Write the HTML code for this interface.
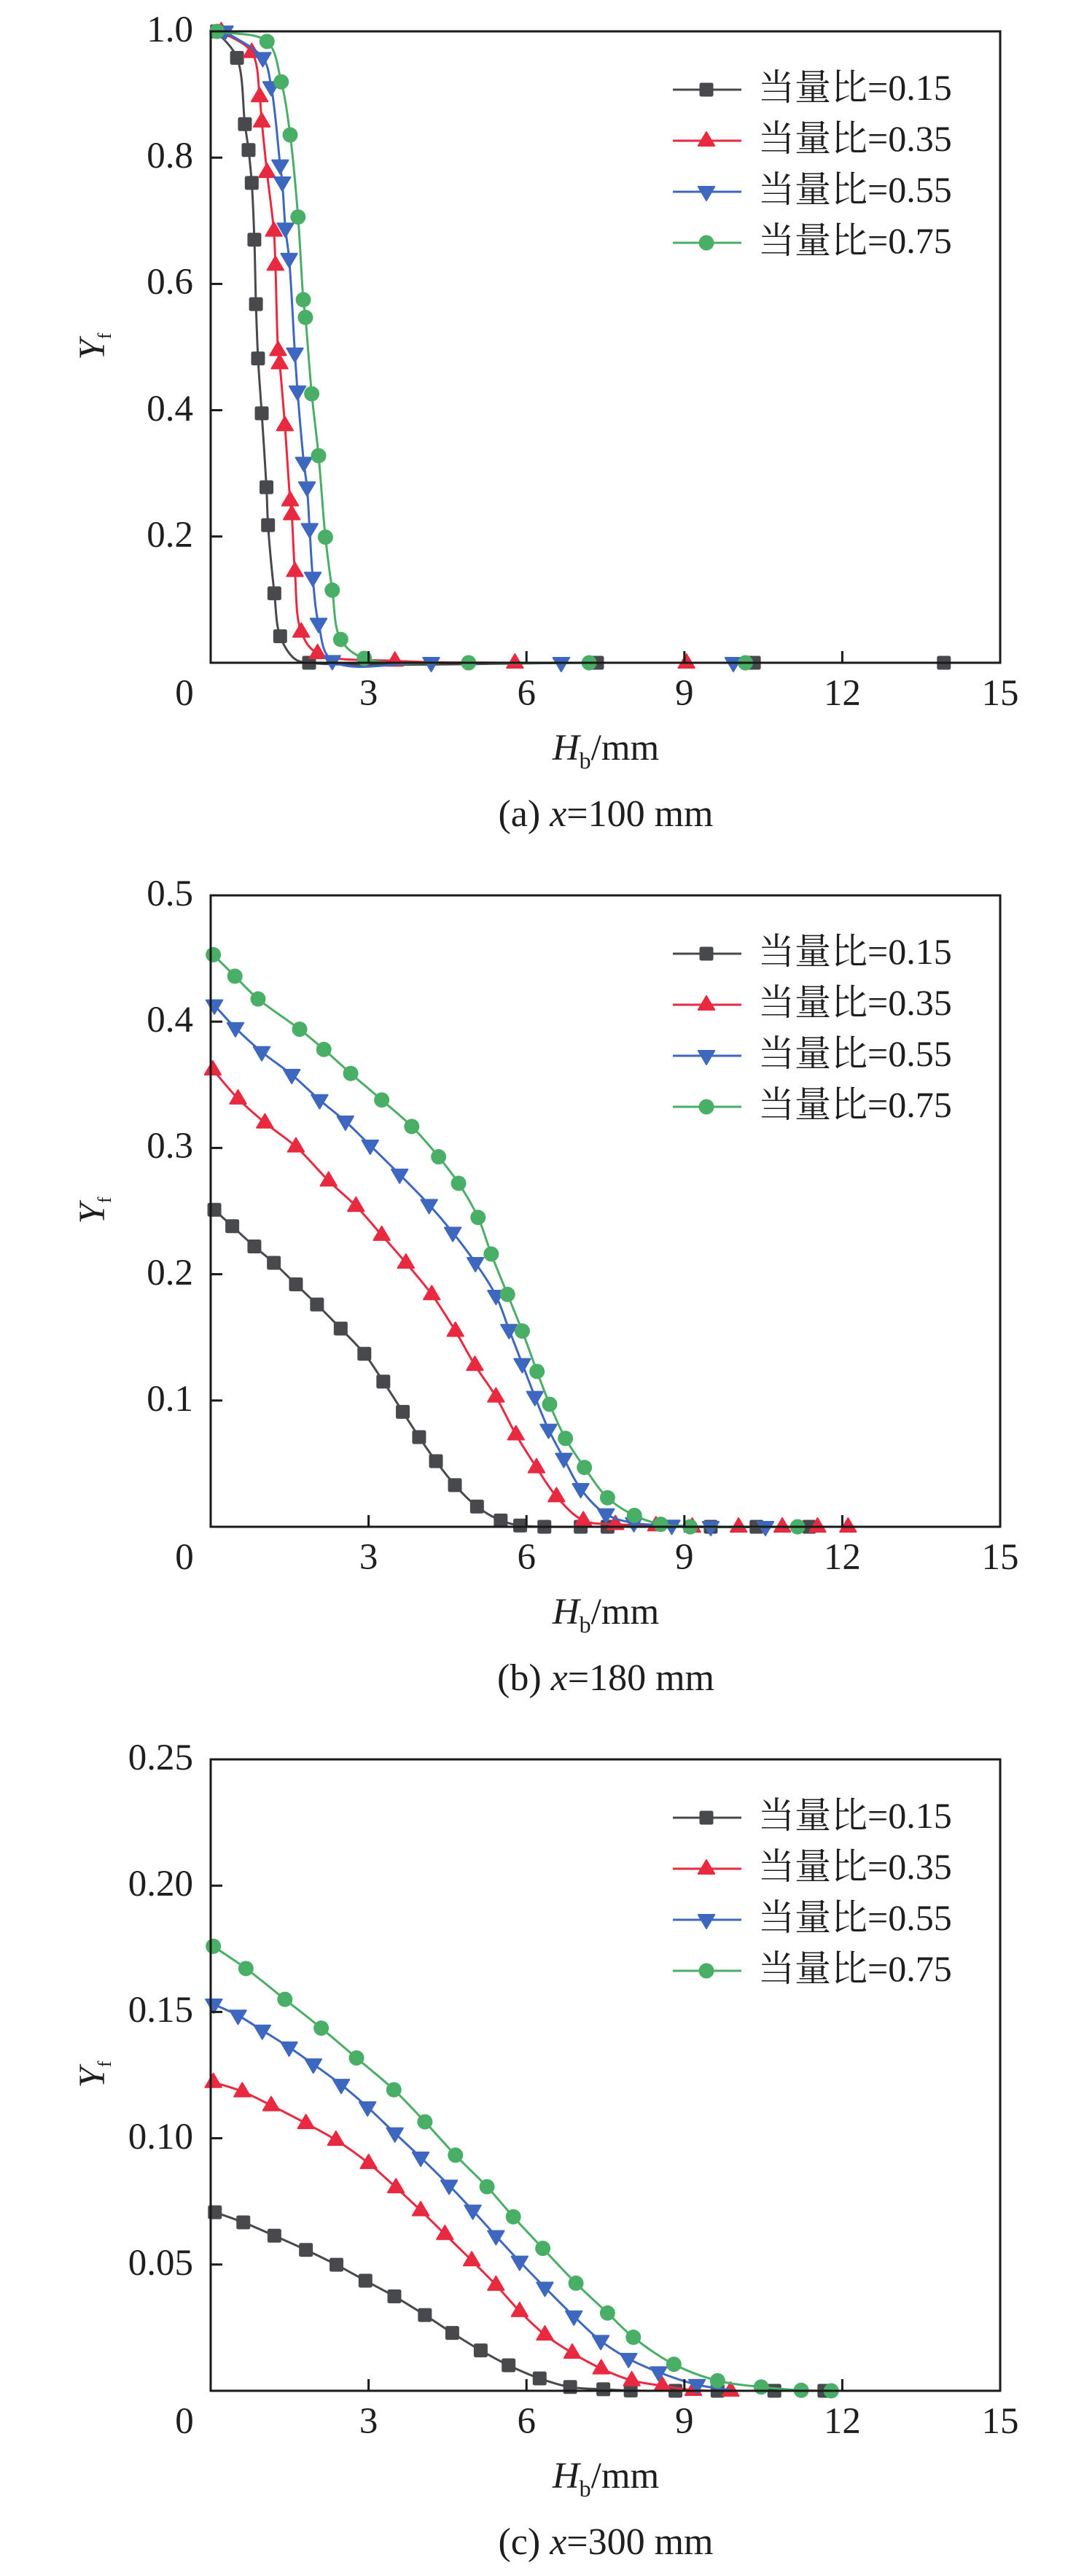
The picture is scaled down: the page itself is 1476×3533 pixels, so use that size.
<!DOCTYPE html>
<html><head><meta charset="utf-8">
<style>
html,body{margin:0;padding:0;background:#fff;}
svg{display:block;}
text{font-family:"Liberation Serif","Noto Serif CJK SC",serif;fill:#1f1d1d;}
</style></head>
<body>
<svg id="s" width="1476" height="3533" viewBox="0 0 1476 3533" xmlns="http://www.w3.org/2000/svg">
<defs>
<rect id="mk0" x="-9.5" y="-9.5" width="19" height="19" rx="2.5" fill="#48494d"/>
<path id="mk1" d="M0,-12 L11.2,7 L-11.2,7Z" fill="#e8293f" stroke="#e8293f" stroke-width="2" stroke-linejoin="round"/>
<path id="mk2" d="M0,12 L11.2,-7 L-11.2,-7Z" fill="#3e68bf" stroke="#3e68bf" stroke-width="2" stroke-linejoin="round"/>
<circle id="mk3" r="10.5" fill="#49ae66"/>
</defs>

<!-- ================= Panel (a) ================= -->
<g id="pa"></g>
<rect x="289" y="43" width="1083" height="866" fill="none" stroke="#1a1a1a" stroke-width="3"/>
<g stroke="#1a1a1a" stroke-width="3">
<line x1="289" y1="216.2" x2="305" y2="216.2"/>
<line x1="289" y1="389.4" x2="305" y2="389.4"/>
<line x1="289" y1="562.6" x2="305" y2="562.6"/>
<line x1="289" y1="735.8" x2="305" y2="735.8"/>
<line x1="505.6" y1="909" x2="505.6" y2="893"/>
<line x1="722.2" y1="909" x2="722.2" y2="893"/>
<line x1="938.8" y1="909" x2="938.8" y2="893"/>
<line x1="1155.4" y1="909" x2="1155.4" y2="893"/>
</g>
<g font-size="51" text-anchor="end">
<text x="265" y="57">1.0</text>
<text x="265" y="230">0.8</text>
<text x="265" y="403">0.6</text>
<text x="265" y="577">0.4</text>
<text x="265" y="750">0.2</text>
</g>
<g font-size="51" text-anchor="middle">
<text x="253" y="967">0</text>
<text x="505.6" y="967">3</text>
<text x="722.2" y="967">6</text>
<text x="938.8" y="967">9</text>
<text x="1155.4" y="967">12</text>
<text x="1372" y="967">15</text>
</g>
<text x="831" y="1042" text-anchor="middle" font-size="51"><tspan font-style="italic">H</tspan><tspan font-size="32" dy="12">b</tspan><tspan dy="-12">/mm</tspan></text>
<text transform="translate(143,475) rotate(-90)" text-anchor="middle" font-size="51"><tspan font-style="italic">Y</tspan><tspan font-size="26" dy="9">f</tspan></text>
<text x="831" y="1133" text-anchor="middle" font-size="52">(a) <tspan font-style="italic">x</tspan>=100 mm</text>
<g>
<line x1="923" y1="123" x2="1017" y2="123" stroke="#48494d" stroke-width="3"/><use href="#mk0" x="969" y="123"/>
<line x1="923" y1="193" x2="1017" y2="193" stroke="#e8293f" stroke-width="3"/><use href="#mk1" x="969" y="193"/>
<line x1="923" y1="263" x2="1017" y2="263" stroke="#3e68bf" stroke-width="3"/><use href="#mk2" x="969" y="263"/>
<line x1="923" y1="333" x2="1017" y2="333" stroke="#49ae66" stroke-width="3"/><use href="#mk3" x="969" y="333"/>
</g>
<g font-size="50">
<text x="1040" y="137">当量比=0.15</text>
<text x="1040" y="207">当量比=0.35</text>
<text x="1040" y="277">当量比=0.55</text>
<text x="1040" y="347">当量比=0.75</text>
</g>

<!-- ================= Panel (b) ================= -->
<g id="pb"></g>
<rect x="289" y="1228" width="1083" height="866" fill="none" stroke="#1a1a1a" stroke-width="3"/>
<g stroke="#1a1a1a" stroke-width="3">
<line x1="289" y1="1401.2" x2="305" y2="1401.2"/>
<line x1="289" y1="1574.4" x2="305" y2="1574.4"/>
<line x1="289" y1="1747.6" x2="305" y2="1747.6"/>
<line x1="289" y1="1920.8" x2="305" y2="1920.8"/>
<line x1="505.6" y1="2094" x2="505.6" y2="2078"/>
<line x1="722.2" y1="2094" x2="722.2" y2="2078"/>
<line x1="938.8" y1="2094" x2="938.8" y2="2078"/>
<line x1="1155.4" y1="2094" x2="1155.4" y2="2078"/>
</g>
<g font-size="51" text-anchor="end">
<text x="265" y="1242">0.5</text>
<text x="265" y="1415">0.4</text>
<text x="265" y="1588">0.3</text>
<text x="265" y="1762">0.2</text>
<text x="265" y="1935">0.1</text>
</g>
<g font-size="51" text-anchor="middle">
<text x="253" y="2152">0</text>
<text x="505.6" y="2152">3</text>
<text x="722.2" y="2152">6</text>
<text x="938.8" y="2152">9</text>
<text x="1155.4" y="2152">12</text>
<text x="1372" y="2152">15</text>
</g>
<text x="831" y="2227" text-anchor="middle" font-size="51"><tspan font-style="italic">H</tspan><tspan font-size="32" dy="12">b</tspan><tspan dy="-12">/mm</tspan></text>
<text transform="translate(143,1660) rotate(-90)" text-anchor="middle" font-size="51"><tspan font-style="italic">Y</tspan><tspan font-size="26" dy="9">f</tspan></text>
<text x="831" y="2318" text-anchor="middle" font-size="52">(b) <tspan font-style="italic">x</tspan>=180 mm</text>
<g>
<line x1="923" y1="1308" x2="1017" y2="1308" stroke="#48494d" stroke-width="3"/><use href="#mk0" x="969" y="1308"/>
<line x1="923" y1="1378" x2="1017" y2="1378" stroke="#e8293f" stroke-width="3"/><use href="#mk1" x="969" y="1378"/>
<line x1="923" y1="1448" x2="1017" y2="1448" stroke="#3e68bf" stroke-width="3"/><use href="#mk2" x="969" y="1448"/>
<line x1="923" y1="1518" x2="1017" y2="1518" stroke="#49ae66" stroke-width="3"/><use href="#mk3" x="969" y="1518"/>
</g>
<g font-size="50">
<text x="1040" y="1322">当量比=0.15</text>
<text x="1040" y="1392">当量比=0.35</text>
<text x="1040" y="1462">当量比=0.55</text>
<text x="1040" y="1532">当量比=0.75</text>
</g>

<!-- ================= Panel (c) ================= -->
<g id="pc"></g>
<rect x="289" y="2413" width="1083" height="866" fill="none" stroke="#1a1a1a" stroke-width="3"/>
<g stroke="#1a1a1a" stroke-width="3">
<line x1="289" y1="2586.2" x2="305" y2="2586.2"/>
<line x1="289" y1="2759.4" x2="305" y2="2759.4"/>
<line x1="289" y1="2932.6" x2="305" y2="2932.6"/>
<line x1="289" y1="3105.8" x2="305" y2="3105.8"/>
<line x1="505.6" y1="3279" x2="505.6" y2="3263"/>
<line x1="722.2" y1="3279" x2="722.2" y2="3263"/>
<line x1="938.8" y1="3279" x2="938.8" y2="3263"/>
<line x1="1155.4" y1="3279" x2="1155.4" y2="3263"/>
</g>
<g font-size="51" text-anchor="end">
<text x="265" y="2427">0.25</text>
<text x="265" y="2600">0.20</text>
<text x="265" y="2773">0.15</text>
<text x="265" y="2947">0.10</text>
<text x="265" y="3120">0.05</text>
</g>
<g font-size="51" text-anchor="middle">
<text x="253" y="3337">0</text>
<text x="505.6" y="3337">3</text>
<text x="722.2" y="3337">6</text>
<text x="938.8" y="3337">9</text>
<text x="1155.4" y="3337">12</text>
<text x="1372" y="3337">15</text>
</g>
<text x="831" y="3412" text-anchor="middle" font-size="51"><tspan font-style="italic">H</tspan><tspan font-size="32" dy="12">b</tspan><tspan dy="-12">/mm</tspan></text>
<text transform="translate(143,2845) rotate(-90)" text-anchor="middle" font-size="51"><tspan font-style="italic">Y</tspan><tspan font-size="26" dy="9">f</tspan></text>
<text x="831" y="3503" text-anchor="middle" font-size="52">(c) <tspan font-style="italic">x</tspan>=300 mm</text>
<g>
<line x1="923" y1="2493" x2="1017" y2="2493" stroke="#48494d" stroke-width="3"/><use href="#mk0" x="969" y="2493"/>
<line x1="923" y1="2563" x2="1017" y2="2563" stroke="#e8293f" stroke-width="3"/><use href="#mk1" x="969" y="2563"/>
<line x1="923" y1="2633" x2="1017" y2="2633" stroke="#3e68bf" stroke-width="3"/><use href="#mk2" x="969" y="2633"/>
<line x1="923" y1="2703" x2="1017" y2="2703" stroke="#49ae66" stroke-width="3"/><use href="#mk3" x="969" y="2703"/>
</g>
<g font-size="50">
<text x="1040" y="2507">当量比=0.15</text>
<text x="1040" y="2577">当量比=0.35</text>
<text x="1040" y="2647">当量比=0.55</text>
<text x="1040" y="2717">当量比=0.75</text>
</g>
</svg>
<script>
(function(){
var NS="http://www.w3.org/2000/svg";
var COLORS=["#48494d","#e8293f","#3e68bf","#49ae66"];
var panels=[
 {id:"pa",T:43,ymax:1.0,series:[
  {pts:[[0.12,1.0],[0.50,0.958],[0.65,0.853],[0.72,0.812],[0.78,0.760],[0.83,0.670],[0.86,0.568],[0.90,0.482],[0.97,0.395],[1.06,0.278],[1.09,0.218],[1.21,0.110],[1.32,0.042],[1.87,0],[7.34,0],[10.32,0],[13.93,0]],
   extra:{1:[[1.6,0.006]]},end:[15,0]},
  {pts:[[0.2,1.0],[0.78,0.967],[0.93,0.897],[0.97,0.857],[1.07,0.777],[1.20,0.684],[1.23,0.630],[1.28,0.495],[1.31,0.474],[1.41,0.376],[1.51,0.257],[1.54,0.235],[1.60,0.145],[1.72,0.049],[2.03,0.015],[3.50,0.003],[5.78,0],[9.04,0]],end:[15,0]},
  {pts:[[0.27,1.0],[0.99,0.958],[1.15,0.912],[1.32,0.788],[1.36,0.761],[1.42,0.688],[1.49,0.640],[1.60,0.490],[1.65,0.430],[1.77,0.317],[1.83,0.278],[1.88,0.212],[1.94,0.135],[2.05,0.062],[2.31,0.003],[4.19,0],[6.66,0],[9.93,0]],end:[15,0]},
  {pts:[[0.12,1.0],[1.07,0.984],[1.34,0.920],[1.51,0.836],[1.66,0.706],[1.76,0.575],[1.80,0.547],[1.92,0.426],[2.05,0.328],[2.18,0.199],[2.31,0.115],[2.47,0.037],[2.92,0.007],[4.90,0],[7.19,0],[10.16,0]],end:[15,0]}
 ]},
 {id:"pb",T:1228,ymax:0.5,series:[
  {pts:[[0.07,0.251],[0.41,0.238],[0.83,0.222],[1.20,0.209],[1.62,0.192],[2.02,0.176],[2.47,0.157],[2.92,0.137],[3.28,0.115],[3.65,0.091],[3.96,0.071],[4.28,0.052],[4.64,0.033],[5.06,0.016],[5.51,0.005],[5.88,0.001],[6.34,0],[7.03,0],[7.54,0],[9.5,0],[10.37,0],[11.37,0]]},
  {pts:[[0.04,0.362],[0.52,0.339],[1.03,0.320],[1.62,0.301],[2.24,0.274],[2.76,0.254],[3.25,0.231],[3.71,0.209],[4.20,0.184],[4.65,0.155],[5.02,0.128],[5.42,0.103],[5.80,0.073],[6.19,0.047],[6.57,0.024],[7.08,0.005],[7.69,0.002],[8.46,0.001],[9.15,0],[10.03,0],[10.86,0],[11.53,0],[12.11,0]]},
  {pts:[[0.07,0.413],[0.47,0.395],[0.97,0.376],[1.54,0.358],[2.07,0.338],[2.56,0.321],[3.03,0.302],[3.59,0.279],[4.15,0.255],[4.60,0.233],[5.03,0.209],[5.42,0.183],[5.67,0.156],[5.92,0.129],[6.16,0.103],[6.42,0.077],[6.71,0.054],[7.03,0.030],[7.51,0.010],[8.04,0.003],[8.76,0.001],[9.50,0],[10.54,0]]},
  {pts:[[0.05,0.453],[0.46,0.436],[0.90,0.418],[1.69,0.394],[2.15,0.378],[2.66,0.359],[3.25,0.338],[3.82,0.317],[4.33,0.293],[4.71,0.272],[5.08,0.245],[5.33,0.216],[5.64,0.184],[5.92,0.155],[6.20,0.123],[6.44,0.097],[6.74,0.070],[7.10,0.047],[7.54,0.023],[8.05,0.009],[8.55,0.002],[9.11,0],[11.15,0]]}
 ]},
 {id:"pc",T:2413,ymax:0.25,series:[
  {pts:[[0.08,0.0707],[0.62,0.0667],[1.21,0.0614],[1.81,0.0558],[2.39,0.0499],[2.94,0.0436],[3.49,0.0374],[4.07,0.0300],[4.59,0.0229],[5.13,0.0160],[5.66,0.0101],[6.25,0.0049],[6.83,0.0015],[7.46,0.0006],[7.98,0.0001],[8.83,0],[9.63,0],[10.71,0],[11.66,0]]},
  {pts:[[0.05,0.1222],[0.60,0.1185],[1.15,0.1130],[1.81,0.1059],[2.38,0.0993],[3.0,0.0901],[3.52,0.0805],[3.99,0.0714],[4.45,0.0620],[4.96,0.0516],[5.42,0.0419],[5.87,0.0315],[6.35,0.0222],[6.87,0.0150],[7.42,0.0088],[8.0,0.0041],[8.58,0.0020],[9.17,0.0003],[9.88,0]],end:[10.28,0]},
  {pts:[[0.06,0.1530],[0.52,0.1486],[0.98,0.1427],[1.49,0.1360],[1.95,0.1293],[2.48,0.1212],[2.98,0.1123],[3.50,0.1020],[3.99,0.0924],[4.53,0.0813],[4.98,0.0714],[5.42,0.0613],[5.87,0.0512],[6.35,0.0409],[6.90,0.0295],[7.41,0.0198],[7.94,0.0127],[8.51,0.0074],[9.24,0.0024]],end:[9.88,0.0003]},
  {pts:[[0.05,0.1760],[0.67,0.1672],[1.41,0.1550],[2.10,0.1436],[2.77,0.1318],[3.48,0.1192],[4.07,0.1065],[4.65,0.0933],[5.25,0.0808],[5.75,0.0689],[6.31,0.0564],[6.94,0.0426],[7.54,0.0308],[8.03,0.0212],[8.80,0.0105],[9.63,0.0040],[10.46,0.0015],[11.22,0.0002],[11.79,0]],end:[12.24,0]}
 ]}
];
function X(v){return 289+v*72.2;}
function dist(a,b){var dx=a[0]-b[0],dy=a[1]-b[1];return Math.sqrt(dx*dx+dy*dy);}
function crPath(P){
  var n=P.length; if(n<2) return "";
  var d="M"+P[0][0].toFixed(2)+","+P[0][1].toFixed(2);
  for(var i=0;i<n-1;i++){
    var p1=P[i],p2=P[i+1];
    var p0=i>0?P[i-1]:null, p3=i<n-2?P[i+2]:null;
    var l12_2a=dist(p1,p2), l12_a=Math.sqrt(l12_2a);
    var c1=[p1[0],p1[1]], c2=[p2[0],p2[1]];
    if(l12_2a<1e-6){continue;}
    if(p0){
      var l01_2a=dist(p0,p1), l01_a=Math.sqrt(l01_2a);
      if(l01_a>1e-6){
        var a=2*l01_2a+3*l01_a*l12_a+l12_2a, nn=3*l01_a*(l01_a+l12_a);
        c1=[(p1[0]*a-p0[0]*l12_2a+p2[0]*l01_2a)/nn,(p1[1]*a-p0[1]*l12_2a+p2[1]*l01_2a)/nn];
      }
    } else {
      c1=[p1[0]+(p2[0]-p1[0])/3,p1[1]+(p2[1]-p1[1])/3];
    }
    if(p3){
      var l23_2a=dist(p2,p3), l23_a=Math.sqrt(l23_2a);
      if(l23_a>1e-6){
        var b=2*l23_2a+3*l23_a*l12_a+l12_2a, m=3*l23_a*(l23_a+l12_a);
        c2=[(p2[0]*b+p1[0]*l23_2a-p3[0]*l12_2a)/m,(p2[1]*b+p1[1]*l23_2a-p3[1]*l12_2a)/m];
      }
    } else {
      c2=[p2[0]-(p2[0]-p1[0])/3,p2[1]-(p2[1]-p1[1])/3];
    }
    d+="C"+c1[0].toFixed(2)+","+c1[1].toFixed(2)+" "+c2[0].toFixed(2)+","+c2[1].toFixed(2)+" "+p2[0].toFixed(2)+","+p2[1].toFixed(2);
  }
  return d;
}
panels.forEach(function(p){
  var g=document.getElementById(p.id);
  var B=p.T+866;
  function Y(y){return B-y/p.ymax*866;}
  p.series.forEach(function(s,si){
    var lp=[];
    s.pts.forEach(function(q,qi){
      lp.push([X(q[0]),Y(q[1])]);
      if(s.extra&&qi===12){ s.extra[1].forEach(function(e){lp.push([X(e[0]),Y(e[1])]);}); }
    });
    if(s.end) lp.push([X(s.end[0]),Y(s.end[1])]);
    var path=document.createElementNS(NS,"path");
    path.setAttribute("d",crPath(lp));
    path.setAttribute("fill","none");
    path.setAttribute("stroke",COLORS[si]);
    path.setAttribute("stroke-width","3");
    path.setAttribute("stroke-linejoin","round");
    path.setAttribute("stroke-linecap","round");
    g.appendChild(path);
    s.pts.forEach(function(q){
      var u=document.createElementNS(NS,"use");
      u.setAttribute("href","#mk"+si);
      u.setAttribute("x",X(q[0]).toFixed(2));
      u.setAttribute("y",Y(q[1]).toFixed(2));
      g.appendChild(u);
    });
  });
});
})();
</script>
</body></html>
